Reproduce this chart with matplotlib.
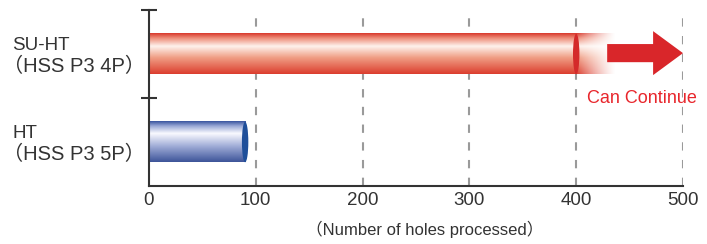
import numpy as np
import matplotlib
matplotlib.use("Agg")
import matplotlib.pyplot as plt
from matplotlib.patches import Ellipse, Polygon
from matplotlib.transforms import offset_copy

plt.rcParams['font.family'] = ['Liberation Sans', 'Noto Sans CJK JP', 'DejaVu Sans']

# ---- data ----
categories = ["SU-HT", "HT"]
subtitles = ["（HSS P3 4P）", "（HSS P3 5P）"]
values = [400, 90]
can_continue = [True, False]
xticks = [0, 100, 200, 300, 400, 500]
xlabel = "（Number of holes processed）"
continue_label = "Can Continue"

fig = plt.figure(figsize=(7.07, 2.44), dpi=100)
ax = fig.add_axes([149/707, 1-186/244, (683-149)/707, (186-10)/244])
ax.set_xlim(0, 500)
ax.set_ylim(0, 2)

# grid
for x in xticks[1:]:
    ax.axvline(x, color='#9a9a9a', lw=1.5, ls=(0, (4, 4.5)), zorder=0)

def grad_colors(stops, n=200):
    pos = np.array([s[0] for s in stops])
    cols = np.array([s[1] for s in stops])
    t = np.linspace(0, 1, n)
    return np.stack([np.interp(t, pos, cols[:, i]) for i in range(3)], axis=1)

red_stops = [(0.0, (0.85, 0.22, 0.17)), (0.12, (0.93, 0.55, 0.47)),
             (0.32, (0.995, 0.95, 0.93)), (0.6, (0.94, 0.62, 0.52)),
             (1.0, (0.86, 0.24, 0.18))]
blue_stops = [(0.0, (0.22, 0.33, 0.62)), (0.12, (0.6, 0.66, 0.84)),
              (0.3, (0.98, 0.98, 1.0)), (0.62, (0.62, 0.67, 0.84)),
              (1.0, (0.24, 0.33, 0.6))]
cap_colors = ['#d42a2a', '#1f4f9a']
styles = [red_stops, blue_stops]

h = 0.46
ycent = [1.5, 0.5]
for i, v in enumerate(values):
    yc = ycent[i]
    cols = grad_colors(styles[i])
    img = np.repeat(cols[:, None, :], 2, axis=1)
    ax.imshow(img, extent=[0, v, yc - h/2, yc + h/2], aspect='auto',
              origin='upper', zorder=2, interpolation='bilinear')
    ax.add_patch(Ellipse((v, yc), 6, h, color=cap_colors[i], zorder=3, lw=0))
    if can_continue[i]:
        n = 60
        alpha = np.linspace(1, 0, n) ** 1.3
        rgba = np.zeros((cols.shape[0], n, 4))
        rgba[:, :, :3] = cols[:, None, :]
        rgba[:, :, 3] = alpha[None, :]
        ax.imshow(rgba, extent=[v, v + 37, yc - h/2, yc + h/2], aspect='auto',
                  origin='upper', zorder=2, interpolation='bilinear')
        # arrow
        sx0, hx0, tip = 429, 472, 500
        s_hw, h_hw = 0.103, 0.25
        yc2 = yc + 0.01
        pts = [(sx0, yc2 - s_hw), (hx0, yc2 - s_hw), (hx0, yc2 - h_hw), (tip, yc2),
               (hx0, yc2 + h_hw), (hx0, yc2 + s_hw), (sx0, yc2 + s_hw)]
        ax.add_patch(Polygon(pts, closed=True, color='#d9262a', lw=0, zorder=4))
        ax.text(v + 10, yc - 0.51, continue_label, color='#e8262c', fontsize=13,
                ha='left', va='center', zorder=5, clip_on=False)

ax.set_xlim(0, 500)
ax.set_ylim(0, 2)

# spines
for s in ['top', 'right']:
    ax.spines[s].set_visible(False)
ax.spines['left'].set_color('#333333')
ax.spines['bottom'].set_color('#333333')
ax.spines['left'].set_linewidth(1.5)
ax.spines['bottom'].set_linewidth(1.5)
ax.spines['bottom'].set_zorder(6)

ax.set_xticks(xticks)
ax.set_xticklabels([str(t) for t in xticks], fontsize=13.5, color='#333333')
ax.tick_params(axis='x', length=0, pad=4)
ax.set_yticks([1, 2])
ax.set_yticklabels([])
ax.tick_params(axis='y', direction='inout', length=11, width=1.5, color='#333333')

# category labels
xl = -137/1.068
for i, (cat, sub) in enumerate(zip(categories, subtitles)):
    ax.text(xl, ycent[i] + 0.04, cat, fontsize=13.5, color='#333333',
            ha='left', va='baseline', clip_on=False)
    ax.text(xl, ycent[i] - 0.2, sub, fontsize=14.5, color='#333333',
            ha='left', va='baseline', clip_on=False,
            transform=offset_copy(ax.transData, fig=fig, x=-9, y=0, units='dots'))

fig.text(425/707, 1 - 229/244, xlabel, fontsize=12, color='#333333',
         ha='center', va='center')

fig.savefig('out.png', dpi=100)
